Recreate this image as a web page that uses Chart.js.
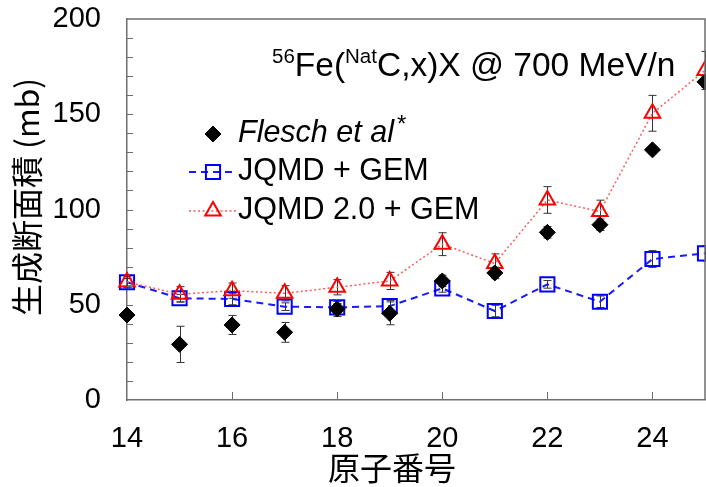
<!DOCTYPE html>
<html>
<head>
<meta charset="utf-8">
<script src="https://cdn.jsdelivr.net/npm/chart.js@4.4.1/dist/chart.umd.min.js"></script>
<style>
html,body{margin:0;padding:0;background:#fff;}
#wrap{width:706px;height:487px;}
</style>
</head>
<body>
<div id="wrap"><canvas id="c" width="706" height="487"></canvas></div>
<script>
// ---- data ----
const atomicNumbers = [14, 15, 16, 17, 18, 19, 20, 21, 22, 23, 24, 25];
const fleschValues  = [44.6, 29.2, 39.4, 35.5, 47.8, 45.5, 62.5, 66.7, 88.0, 92.0, 131.3, 167.0];
const fleschErrors  = [0, 9.5, 5.0, 5.2, 4.0, 6.0, 3.0, 3.0, 3.0, 3.0, 2.0, 3.0];
const jqmdValues    = [61.8, 53.4, 53.0, 49.0, 48.6, 49.3, 58.6, 46.7, 60.7, 51.6, 74.0, 77.0];
const jqmdErrors    = [2.0, 2.0, 3.0, 2.0, 2.0, 3.0, 2.0, 3.0, 2.0, 3.0, 4.4, 4.0];
const jqmd2Values   = [62.0, 55.5, 57.4, 56.0, 59.2, 62.5, 81.8, 71.7, 105.0, 98.9, 150.5, 173.0];
const jqmd2Errors   = [3.0, 4.0, 4.0, 4.0, 4.0, 4.5, 6.0, 5.0, 7.0, 6.0, 9.4, 10.0];
const xTickValues   = [14, 16, 18, 20, 22, 24];
const yTickValues   = [0, 50, 100, 150, 200];
const seriesNames   = ['Flesch et al', 'JQMD + GEM', 'JQMD 2.0 + GEM'];
const xTitle = '原子番号';
const yTitle = '生成断面積 (mb)';

const FONT = '"Liberation Sans", Arial, sans-serif';
const CJK = '"Noto Sans CJK JP", "Noto Sans CJK SC", sans-serif';
const AXIS_COLOR = '#6e6e6e';

function pts(vals){ return atomicNumbers.map((x,i)=>({x:x, y:vals[i]})); }

const errorBarPlugin = {
  id: 'errorBars',
  beforeDatasetsDraw(chart){
    const ctx = chart.ctx, xs = chart.scales.x, ys = chart.scales.y;
    ctx.save();
    ctx.strokeStyle = '#333';
    ctx.lineWidth = 1;
    chart.data.datasets.forEach(ds=>{
      if(!ds.errors) return;
      ds.data.forEach((p,i)=>{
        const e = ds.errors[i];
        if(!e) return;
        const px = Math.round(xs.getPixelForValue(p.x)) + 0.5;
        const y1 = ys.getPixelForValue(p.y + e), y2 = ys.getPixelForValue(p.y - e);
        ctx.beginPath();
        ctx.moveTo(px, y1); ctx.lineTo(px, y2);
        ctx.moveTo(px-4, y1); ctx.lineTo(px+4, y1);
        ctx.moveTo(px-4, y2); ctx.lineTo(px+4, y2);
        ctx.stroke();
      });
    });
    ctx.restore();
  }
};

const framePlugin = {
  id: 'frame',
  afterDatasetsDraw(chart){
    const ctx = chart.ctx, a = chart.chartArea, xs = chart.scales.x, ys = chart.scales.y;
    ctx.save();
    ctx.strokeStyle = AXIS_COLOR;
    ctx.lineWidth = 1.5;
    ctx.beginPath();
    ctx.moveTo(a.left, a.top); ctx.lineTo(a.right, a.top); ctx.lineTo(a.right, a.bottom);
    ctx.stroke();
    ctx.lineWidth = 1;
    ctx.beginPath();
    for(let v=10; v<200; v+=10){
      const py = Math.round(ys.getPixelForValue(v))+0.5;
      ctx.moveTo(a.left, py); ctx.lineTo(a.left+6, py);
    }
    xTickValues.forEach(v=>{
      if(v===14) return;
      const px = Math.round(xs.getPixelForValue(v))+0.5;
      ctx.moveTo(px, a.bottom); ctx.lineTo(px, a.bottom-8);
    });
    ctx.stroke();
    ctx.restore();
  }
};

const textPlugin = {
  id: 'texts',
  afterDraw(chart){
    const ctx = chart.ctx;
    const ds = chart.data.datasets;
    ctx.save();
    ctx.fillStyle = '#000';
    // reaction label
    let x = 272, base = 76;
    ctx.textBaseline = 'alphabetic';
    ctx.textAlign = 'left';
    const big = '33.5px ' + FONT, small = '20.5px ' + FONT;
    const parts = [['56', small, -13], ['Fe(', big, 0], ['Nat', small, -13], ['C,x)X @ 700 MeV/n', big, 0]];
    parts.forEach(p=>{ ctx.font = p[1]; ctx.fillText(p[0], x, base + p[2]); x += ctx.measureText(p[0]).width; });

    // axis titles
    ctx.font = '32px ' + CJK;
    ctx.textAlign = 'center';
    ctx.textBaseline = 'middle';
    ctx.fillText(xTitle, 392, 468);
    ctx.save();
    ctx.translate(27, 197);
    ctx.rotate(-Math.PI/2);
    ctx.fillText(yTitle, 0, 0);
    ctx.restore();

    // legend
    const rows = [134, 172, 211];
    const mx = 213, tx = 238;
    ctx.textAlign = 'left';
    ctx.textBaseline = 'middle';
    rows.forEach((ry,i)=>{
      const d = ds[i];
      if(d.showLine){
        ctx.save();
        ctx.strokeStyle = d.borderColor; ctx.lineWidth = d.borderWidth;
        ctx.setLineDash(d.borderDash || []);
        ctx.beginPath(); ctx.moveTo(189, ry); ctx.lineTo(236, ry); ctx.stroke();
        ctx.restore();
      }
      ctx.save();
      ctx.strokeStyle = d.pointBorderColor; ctx.fillStyle = d.pointBackgroundColor;
      ctx.lineWidth = d.pointBorderWidth;
      Chart.helpers.drawPoint(ctx, {pointStyle: d.pointStyle, radius: d.pointRadius, borderWidth: d.pointBorderWidth, rotation: 0}, mx, ry);
      ctx.restore();
      if(i===0){
        ctx.font = 'italic 30.5px ' + FONT;
        ctx.fillText(seriesNames[0], tx, ry);
        const w = ctx.measureText(seriesNames[0]).width;
        ctx.font = '24px ' + FONT;
        ctx.fillText('*', tx + w + 3, ry - 9);
      } else {
        ctx.font = '30.5px ' + FONT;
        ctx.fillText(seriesNames[i], tx, ry);
      }
    });
    ctx.restore();
  }
};

function zeroPad(s){ s.paddingTop = 0; s.paddingBottom = 0; s.paddingLeft = 0; s.paddingRight = 0; }

new Chart(document.getElementById('c'), {
  type: 'scatter',
  data: {
    datasets: [
      {
        label: seriesNames[0], data: pts(fleschValues), errors: fleschErrors,
        showLine: false, pointStyle: 'rectRot', pointRadius: 8, pointHoverRadius: 8,
        pointBackgroundColor: '#000', pointBorderColor: '#000', pointBorderWidth: 1,
        borderColor: '#000', order: 1
      },
      {
        label: seriesNames[1], data: pts(jqmdValues), errors: jqmdErrors,
        showLine: true, borderColor: '#1a1aff', borderWidth: 2, borderDash: [7,5],
        pointStyle: 'rect', pointRadius: 10, pointHoverRadius: 10,
        pointBackgroundColor: 'rgba(0,0,0,0)', pointBorderColor: '#0000ff', pointBorderWidth: 2,
        order: 3
      },
      {
        label: seriesNames[2], data: pts(jqmd2Values), errors: jqmd2Errors,
        showLine: true, borderColor: '#ff5a5a', borderWidth: 1.5, borderDash: [2,2.5],
        pointStyle: 'triangle', pointRadius: 9, pointHoverRadius: 9,
        pointBackgroundColor: 'rgba(0,0,0,0)', pointBorderColor: '#ff0000', pointBorderWidth: 2,
        order: 2
      }
    ]
  },
  options: {
    responsive: false,
    animation: false,
    devicePixelRatio: 1,
    clip: false,
    layout: { autoPadding: false, padding: { top: 19, right: 1, left: 0, bottom: 0 } },
    plugins: { legend: { display: false }, tooltip: { enabled: false } },
    scales: {
      x: {
        type: 'linear', min: 14, max: 25,
        afterFit(s){ s.height = 87; zeroPad(s); },
        afterBuildTicks(s){ s.ticks = xTickValues.map(v=>({value:v})); },
        ticks: { font: { size: 29, family: FONT }, color: '#000', padding: 22, maxRotation: 0, autoSkip: false },
        grid: { drawOnChartArea: false, drawTicks: false },
        border: { display: true, color: AXIS_COLOR, width: 1.5 }
      },
      y: {
        type: 'linear', min: 0, max: 200,
        afterFit(s){ s.width = 127; zeroPad(s); },
        afterBuildTicks(s){ s.ticks = yTickValues.map(v=>({value:v})); },
        ticks: { font: { size: 29, family: FONT }, color: '#000', padding: 26 },
        grid: { drawOnChartArea: false, drawTicks: false },
        border: { display: true, color: AXIS_COLOR, width: 1.5 }
      }
    }
  },
  plugins: [errorBarPlugin, framePlugin, textPlugin]
});
</script>
</body>
</html>
